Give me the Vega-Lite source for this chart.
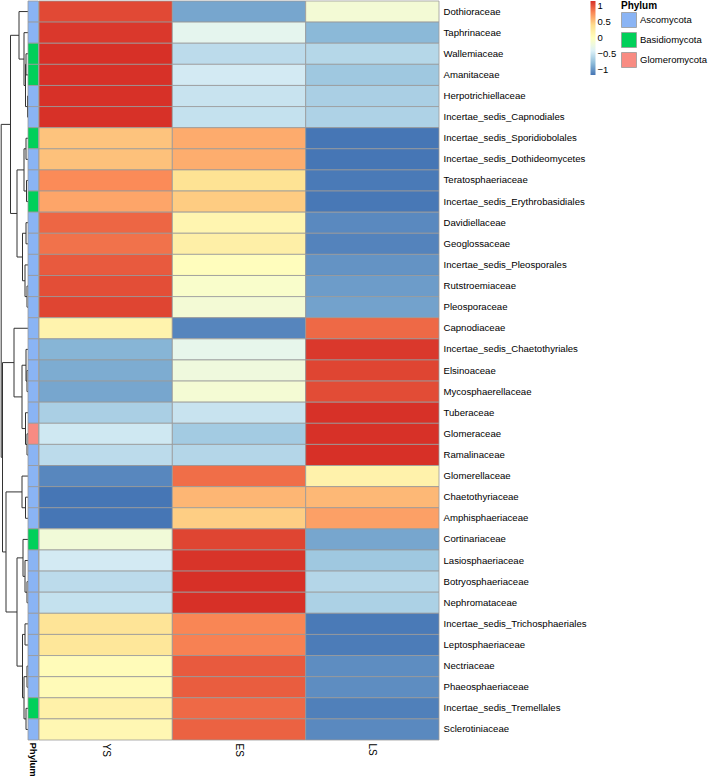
{
  "$schema": "https://vega.github.io/schema/vega-lite/v6.json",
  "padding": 0,
  "bounds": "flush",
  "spacing": 0,
  "config": {"view": {"stroke": null}, "font": "Liberation Sans", "axis": {"labelColor": "black"}, "legend": {"labelColor": "black", "titleColor": "black"}},
  "resolve": {"scale": {"x": "independent", "y": "independent", "color": "independent"}, "legend": {"color": "independent"}},
  "datasets": {
    "dendro": [
      {"h1":2,"h2":2,"y1":2.5,"y2":3.5},{"h1":0,"h2":2,"y1":2.5,"y2":2.5},{"h1":0,"h2":2,"y1":3.5,"y2":3.5},
      {"h1":0.5,"h2":0.5,"y1":4.5,"y2":5.5},{"h1":0,"h2":0.5,"y1":4.5,"y2":4.5},{"h1":0,"h2":0.5,"y1":5.5,"y2":5.5},
      {"h1":2.5,"h2":2.5,"y1":3,"y2":5},{"h1":2,"h2":2.5,"y1":3,"y2":3},{"h1":0.5,"h2":2.5,"y1":5,"y2":5},
      {"h1":4,"h2":4,"y1":1.5,"y2":4},{"h1":0,"h2":4,"y1":1.5,"y2":1.5},{"h1":2.5,"h2":4,"y1":4,"y2":4},
      {"h1":9,"h2":9,"y1":0.5,"y2":2.75},{"h1":0,"h2":9,"y1":0.5,"y2":0.5},{"h1":4,"h2":9,"y1":2.75,"y2":2.75},
      {"h1":2,"h2":2,"y1":6.5,"y2":7.5},{"h1":0,"h2":2,"y1":6.5,"y2":6.5},{"h1":0,"h2":2,"y1":7.5,"y2":7.5},
      {"h1":1.5,"h2":1.5,"y1":8.5,"y2":9.5},{"h1":0,"h2":1.5,"y1":8.5,"y2":8.5},{"h1":0,"h2":1.5,"y1":9.5,"y2":9.5},
      {"h1":4,"h2":4,"y1":7,"y2":9},{"h1":2,"h2":4,"y1":7,"y2":7},{"h1":1.5,"h2":4,"y1":9,"y2":9},
      {"h1":2,"h2":2,"y1":10.5,"y2":11.5},{"h1":0,"h2":2,"y1":10.5,"y2":10.5},{"h1":0,"h2":2,"y1":11.5,"y2":11.5},
      {"h1":1,"h2":1,"y1":13.5,"y2":14.5},{"h1":0,"h2":1,"y1":13.5,"y2":13.5},{"h1":0,"h2":1,"y1":14.5,"y2":14.5},
      {"h1":3,"h2":3,"y1":12.5,"y2":14},{"h1":0,"h2":3,"y1":12.5,"y2":12.5},{"h1":1,"h2":3,"y1":14,"y2":14},
      {"h1":5.5,"h2":5.5,"y1":11,"y2":13.25},{"h1":2,"h2":5.5,"y1":11,"y2":11},{"h1":3,"h2":5.5,"y1":13.25,"y2":13.25},
      {"h1":11,"h2":11,"y1":8,"y2":12.125},{"h1":4,"h2":11,"y1":8,"y2":8},{"h1":5.5,"h2":11,"y1":12.125,"y2":12.125},
      {"h1":17.5,"h2":17.5,"y1":1.625,"y2":10.0625},{"h1":9,"h2":17.5,"y1":1.625,"y2":1.625},{"h1":11,"h2":17.5,"y1":10.0625,"y2":10.0625},
      {"h1":1,"h2":1,"y1":17.5,"y2":18.5},{"h1":0,"h2":1,"y1":17.5,"y2":17.5},{"h1":0,"h2":1,"y1":18.5,"y2":18.5},
      {"h1":2,"h2":2,"y1":16.5,"y2":18},{"h1":0,"h2":2,"y1":16.5,"y2":16.5},{"h1":1,"h2":2,"y1":18,"y2":18},
      {"h1":1,"h2":1,"y1":20.5,"y2":21.5},{"h1":0,"h2":1,"y1":20.5,"y2":20.5},{"h1":0,"h2":1,"y1":21.5,"y2":21.5},
      {"h1":2.5,"h2":2.5,"y1":19.5,"y2":21},{"h1":0,"h2":2.5,"y1":19.5,"y2":19.5},{"h1":1,"h2":2.5,"y1":21,"y2":21},
      {"h1":6,"h2":6,"y1":17.25,"y2":20.25},{"h1":2,"h2":6,"y1":17.25,"y2":17.25},{"h1":2.5,"h2":6,"y1":20.25,"y2":20.25},
      {"h1":14,"h2":14,"y1":15.5,"y2":18.75},{"h1":0,"h2":14,"y1":15.5,"y2":15.5},{"h1":6,"h2":14,"y1":18.75,"y2":18.75},
      {"h1":2.5,"h2":2.5,"y1":23.5,"y2":24.5},{"h1":0,"h2":2.5,"y1":23.5,"y2":23.5},{"h1":0,"h2":2.5,"y1":24.5,"y2":24.5},
      {"h1":6,"h2":6,"y1":22.5,"y2":24},{"h1":0,"h2":6,"y1":22.5,"y2":22.5},{"h1":2.5,"h2":6,"y1":24,"y2":24},
      {"h1":1,"h2":1,"y1":27.5,"y2":28.5},{"h1":0,"h2":1,"y1":27.5,"y2":27.5},{"h1":0,"h2":1,"y1":28.5,"y2":28.5},
      {"h1":3,"h2":3,"y1":26.5,"y2":28},{"h1":0,"h2":3,"y1":26.5,"y2":26.5},{"h1":1,"h2":3,"y1":28,"y2":28},
      {"h1":5,"h2":5,"y1":25.5,"y2":27.25},{"h1":0,"h2":5,"y1":25.5,"y2":25.5},{"h1":3,"h2":5,"y1":27.25,"y2":27.25},
      {"h1":3,"h2":3,"y1":29.5,"y2":30.5},{"h1":0,"h2":3,"y1":29.5,"y2":29.5},{"h1":0,"h2":3,"y1":30.5,"y2":30.5},
      {"h1":1,"h2":1,"y1":31.5,"y2":32.5},{"h1":0,"h2":1,"y1":31.5,"y2":31.5},{"h1":0,"h2":1,"y1":32.5,"y2":32.5},
      {"h1":2,"h2":2,"y1":33.5,"y2":34.5},{"h1":0,"h2":2,"y1":33.5,"y2":33.5},{"h1":0,"h2":2,"y1":34.5,"y2":34.5},
      {"h1":4,"h2":4,"y1":32,"y2":34},{"h1":1,"h2":4,"y1":32,"y2":32},{"h1":2,"h2":4,"y1":34,"y2":34},
      {"h1":5.5,"h2":5.5,"y1":30,"y2":33},{"h1":3,"h2":5.5,"y1":30,"y2":30},{"h1":4,"h2":5.5,"y1":33,"y2":33},
      {"h1":11,"h2":11,"y1":26.375,"y2":31.5},{"h1":5,"h2":11,"y1":26.375,"y2":26.375},{"h1":5.5,"h2":11,"y1":31.5,"y2":31.5},
      {"h1":22,"h2":22,"y1":23.25,"y2":28.9375},{"h1":6,"h2":22,"y1":23.25,"y2":23.25},{"h1":11,"h2":22,"y1":28.9375,"y2":28.9375},
      {"h1":25.5,"h2":25.5,"y1":17.125,"y2":26.09375},{"h1":14,"h2":25.5,"y1":17.125,"y2":17.125},{"h1":22,"h2":25.5,"y1":26.09375,"y2":26.09375},
      {"h1":26.8,"h2":26.8,"y1":5.84375,"y2":21.609375},{"h1":17.5,"h2":26.8,"y1":5.84375,"y2":5.84375},{"h1":25.5,"h2":26.8,"y1":21.609375,"y2":21.609375}
    ],
    "phylum": [
      {"f":"Dothioraceae","p":"Ascomycota"},
      {"f":"Taphrinaceae","p":"Ascomycota"},
      {"f":"Wallemiaceae","p":"Basidiomycota"},
      {"f":"Amanitaceae","p":"Basidiomycota"},
      {"f":"Herpotrichiellaceae","p":"Ascomycota"},
      {"f":"Incertae_sedis_Capnodiales","p":"Ascomycota"},
      {"f":"Incertae_sedis_Sporidiobolales","p":"Basidiomycota"},
      {"f":"Incertae_sedis_Dothideomycetes","p":"Ascomycota"},
      {"f":"Teratosphaeriaceae","p":"Ascomycota"},
      {"f":"Incertae_sedis_Erythrobasidiales","p":"Basidiomycota"},
      {"f":"Davidiellaceae","p":"Ascomycota"},
      {"f":"Geoglossaceae","p":"Ascomycota"},
      {"f":"Incertae_sedis_Pleosporales","p":"Ascomycota"},
      {"f":"Rutstroemiaceae","p":"Ascomycota"},
      {"f":"Pleosporaceae","p":"Ascomycota"},
      {"f":"Capnodiaceae","p":"Ascomycota"},
      {"f":"Incertae_sedis_Chaetothyriales","p":"Ascomycota"},
      {"f":"Elsinoaceae","p":"Ascomycota"},
      {"f":"Mycosphaerellaceae","p":"Ascomycota"},
      {"f":"Tuberaceae","p":"Ascomycota"},
      {"f":"Glomeraceae","p":"Glomeromycota"},
      {"f":"Ramalinaceae","p":"Ascomycota"},
      {"f":"Glomerellaceae","p":"Ascomycota"},
      {"f":"Chaetothyriaceae","p":"Ascomycota"},
      {"f":"Amphisphaeriaceae","p":"Ascomycota"},
      {"f":"Cortinariaceae","p":"Basidiomycota"},
      {"f":"Lasiosphaeriaceae","p":"Ascomycota"},
      {"f":"Botryosphaeriaceae","p":"Ascomycota"},
      {"f":"Nephromataceae","p":"Ascomycota"},
      {"f":"Incertae_sedis_Trichosphaeriales","p":"Ascomycota"},
      {"f":"Leptosphaeriaceae","p":"Ascomycota"},
      {"f":"Nectriaceae","p":"Ascomycota"},
      {"f":"Phaeosphaeriaceae","p":"Ascomycota"},
      {"f":"Incertae_sedis_Tremellales","p":"Basidiomycota"},
      {"f":"Sclerotiniaceae","p":"Ascomycota"}
    ],
    "heat": [
      {"f":"Dothioraceae","s":"YS","v":1.05},{"f":"Dothioraceae","s":"ES","v":-0.9},{"f":"Dothioraceae","s":"LS","v":-0.15},
      {"f":"Taphrinaceae","s":"YS","v":1.12},{"f":"Taphrinaceae","s":"ES","v":-0.32},{"f":"Taphrinaceae","s":"LS","v":-0.8},
      {"f":"Wallemiaceae","s":"YS","v":1.155},{"f":"Wallemiaceae","s":"ES","v":-0.56},{"f":"Wallemiaceae","s":"LS","v":-0.595},
      {"f":"Amanitaceae","s":"YS","v":1.15},{"f":"Amanitaceae","s":"ES","v":-0.45},{"f":"Amanitaceae","s":"LS","v":-0.7},
      {"f":"Herpotrichiellaceae","s":"YS","v":1.15},{"f":"Herpotrichiellaceae","s":"ES","v":-0.5},{"f":"Herpotrichiellaceae","s":"LS","v":-0.65},
      {"f":"Incertae_sedis_Capnodiales","s":"YS","v":1.15},{"f":"Incertae_sedis_Capnodiales","s":"ES","v":-0.52},{"f":"Incertae_sedis_Capnodiales","s":"LS","v":-0.63},
      {"f":"Incertae_sedis_Sporidiobolales","s":"YS","v":0.52},{"f":"Incertae_sedis_Sporidiobolales","s":"ES","v":0.63},{"f":"Incertae_sedis_Sporidiobolales","s":"LS","v":-1.15},
      {"f":"Incertae_sedis_Dothideomycetes","s":"YS","v":0.53},{"f":"Incertae_sedis_Dothideomycetes","s":"ES","v":0.62},{"f":"Incertae_sedis_Dothideomycetes","s":"LS","v":-1.15},
      {"f":"Teratosphaeriaceae","s":"YS","v":0.78},{"f":"Teratosphaeriaceae","s":"ES","v":0.35},{"f":"Teratosphaeriaceae","s":"LS","v":-1.13},
      {"f":"Incertae_sedis_Erythrobasidiales","s":"YS","v":0.66},{"f":"Incertae_sedis_Erythrobasidiales","s":"ES","v":0.48},{"f":"Incertae_sedis_Erythrobasidiales","s":"LS","v":-1.14},
      {"f":"Davidiellaceae","s":"YS","v":0.93},{"f":"Davidiellaceae","s":"ES","v":0.12},{"f":"Davidiellaceae","s":"LS","v":-1.05},
      {"f":"Geoglossaceae","s":"YS","v":0.88},{"f":"Geoglossaceae","s":"ES","v":0.2},{"f":"Geoglossaceae","s":"LS","v":-1.08},
      {"f":"Incertae_sedis_Pleosporales","s":"YS","v":0.98},{"f":"Incertae_sedis_Pleosporales","s":"ES","v":0.02},{"f":"Incertae_sedis_Pleosporales","s":"LS","v":-1.0},
      {"f":"Rutstroemiaceae","s":"YS","v":1.03},{"f":"Rutstroemiaceae","s":"ES","v":-0.08},{"f":"Rutstroemiaceae","s":"LS","v":-0.95},
      {"f":"Pleosporaceae","s":"YS","v":1.07},{"f":"Pleosporaceae","s":"ES","v":-0.15},{"f":"Pleosporaceae","s":"LS","v":-0.92},
      {"f":"Capnodiaceae","s":"YS","v":0.15},{"f":"Capnodiaceae","s":"ES","v":-1.07},{"f":"Capnodiaceae","s":"LS","v":0.92},
      {"f":"Incertae_sedis_Chaetothyriales","s":"YS","v":-0.82},{"f":"Incertae_sedis_Chaetothyriales","s":"ES","v":-0.3},{"f":"Incertae_sedis_Chaetothyriales","s":"LS","v":1.12},
      {"f":"Elsinoaceae","s":"YS","v":-0.87},{"f":"Elsinoaceae","s":"ES","v":-0.2},{"f":"Elsinoaceae","s":"LS","v":1.07},
      {"f":"Mycosphaerellaceae","s":"YS","v":-0.9},{"f":"Mycosphaerellaceae","s":"ES","v":-0.14},{"f":"Mycosphaerellaceae","s":"LS","v":1.04},
      {"f":"Tuberaceae","s":"YS","v":-0.65},{"f":"Tuberaceae","s":"ES","v":-0.5},{"f":"Tuberaceae","s":"LS","v":1.15},
      {"f":"Glomeraceae","s":"YS","v":-0.47},{"f":"Glomeraceae","s":"ES","v":-0.68},{"f":"Glomeraceae","s":"LS","v":1.15},
      {"f":"Ramalinaceae","s":"YS","v":-0.56},{"f":"Ramalinaceae","s":"ES","v":-0.6},{"f":"Ramalinaceae","s":"LS","v":1.155},
      {"f":"Glomerellaceae","s":"YS","v":-1.06},{"f":"Glomerellaceae","s":"ES","v":0.9},{"f":"Glomerellaceae","s":"LS","v":0.16},
      {"f":"Chaetothyriaceae","s":"YS","v":-1.15},{"f":"Chaetothyriaceae","s":"ES","v":0.58},{"f":"Chaetothyriaceae","s":"LS","v":0.57},
      {"f":"Amphisphaeriaceae","s":"YS","v":-1.15},{"f":"Amphisphaeriaceae","s":"ES","v":0.47},{"f":"Amphisphaeriaceae","s":"LS","v":0.68},
      {"f":"Cortinariaceae","s":"YS","v":-0.17},{"f":"Cortinariaceae","s":"ES","v":1.07},{"f":"Cortinariaceae","s":"LS","v":-0.9},
      {"f":"Lasiosphaeriaceae","s":"YS","v":-0.45},{"f":"Lasiosphaeriaceae","s":"ES","v":1.14},{"f":"Lasiosphaeriaceae","s":"LS","v":-0.7},
      {"f":"Botryosphaeriaceae","s":"YS","v":-0.56},{"f":"Botryosphaeriaceae","s":"ES","v":1.155},{"f":"Botryosphaeriaceae","s":"LS","v":-0.6},
      {"f":"Nephromataceae","s":"YS","v":-0.52},{"f":"Nephromataceae","s":"ES","v":1.155},{"f":"Nephromataceae","s":"LS","v":-0.64},
      {"f":"Incertae_sedis_Trichosphaeriales","s":"YS","v":0.33},{"f":"Incertae_sedis_Trichosphaeriales","s":"ES","v":0.8},{"f":"Incertae_sedis_Trichosphaeriales","s":"LS","v":-1.13},
      {"f":"Leptosphaeriaceae","s":"YS","v":0.3},{"f":"Leptosphaeriaceae","s":"ES","v":0.82},{"f":"Leptosphaeriaceae","s":"LS","v":-1.12},
      {"f":"Nectriaceae","s":"YS","v":0.05},{"f":"Nectriaceae","s":"ES","v":0.98},{"f":"Nectriaceae","s":"LS","v":-1.03},
      {"f":"Phaeosphaeriaceae","s":"YS","v":0.06},{"f":"Phaeosphaeriaceae","s":"ES","v":0.97},{"f":"Phaeosphaeriaceae","s":"LS","v":-1.03},
      {"f":"Incertae_sedis_Tremellales","s":"YS","v":0.18},{"f":"Incertae_sedis_Tremellales","s":"ES","v":0.92},{"f":"Incertae_sedis_Tremellales","s":"LS","v":-1.1},
      {"f":"Sclerotiniaceae","s":"YS","v":0.1},{"f":"Sclerotiniaceae","s":"ES","v":0.95},{"f":"Sclerotiniaceae","s":"LS","v":-1.05}
    ]
  },
  "hconcat": [
    {
      "width": 27,
      "height": 739,
      "data": {"name": "dendro"},
      "mark": {"type": "rule", "color": "#333333", "strokeWidth": 1},
      "encoding": {
        "x": {"field": "h1", "type": "quantitative", "scale": {"domain": [0, 27], "reverse": true, "nice": false, "zero": false}, "axis": null},
        "x2": {"field": "h2"},
        "y": {"field": "y1", "type": "quantitative", "scale": {"domain": [0, 35], "reverse": true, "nice": false, "zero": false}, "axis": null},
        "y2": {"field": "y2"}
      }
    },
    {
      "width": 10.5,
      "height": 739,
      "data": {"name": "phylum"},
      "mark": {"type": "rect", "stroke": "#999999", "strokeWidth": 0.8},
      "encoding": {
        "x": {"datum": "Phylum", "type": "nominal", "scale": {"paddingInner": 0, "paddingOuter": 0}, "axis": {"title": null, "labelAngle": 90, "labelFontWeight": "bold", "labelFontSize": 9.5, "ticks": false, "domain": false, "labelPadding": 2}},
        "y": {"field": "f", "type": "nominal", "sort": null, "scale": {"paddingInner": 0, "paddingOuter": 0}, "axis": null},
        "color": {
          "field": "p", "type": "nominal",
          "scale": {"domain": ["Ascomycota", "Basidiomycota", "Glomeromycota"], "range": ["#8AB4F4", "#00D05A", "#F88B82"]},
          "legend": {"orient": "none", "legendX": 593, "legendY": 0, "title": "Phylum", "titleFontSize": 10, "titleFontWeight": "bold", "titlePadding": 1, "padding": 0, "symbolType": "square", "symbolSize": 225, "symbolStrokeColor": "#999999", "symbolStrokeWidth": 0.8, "symbolOpacity": 1, "rowPadding": 0, "labelFontSize": 9.5, "labelOffset": 3, "labelLimit": 200}
        }
      }
    },
    {
      "width": 400,
      "height": 739,
      "data": {"name": "heat"},
      "mark": {"type": "rect", "stroke": "#999999", "strokeWidth": 0.8},
      "encoding": {
        "x": {"field": "s", "type": "nominal", "sort": ["YS", "ES", "LS"], "scale": {"paddingInner": 0, "paddingOuter": 0}, "axis": {"title": null, "orient": "bottom", "labelAngle": 90, "ticks": false, "domain": false, "labelFontSize": 10, "labelPadding": 3}},
        "y": {"field": "f", "type": "nominal", "sort": null, "scale": {"paddingInner": 0, "paddingOuter": 0}, "axis": {"orient": "right", "title": null, "ticks": false, "domain": false, "labelFontSize": 9.6, "labelPadding": 4}},
        "color": {
          "field": "v", "type": "quantitative",
          "scale": {"domain": [-1.155, 1.155], "range": ["#4575B4", "#91BFDB", "#E0F3F8", "#FFFFBF", "#FEE090", "#FC8D59", "#D73027"], "interpolate": "rgb"},
          "legend": {"orient": "none", "legendX": 551.5, "legendY": 0, "title": null, "direction": "vertical", "gradientLength": 74, "gradientThickness": 5, "gradientStrokeWidth": 0, "labelFontSize": 9.5, "padding": 0, "labelOffset": 2, "values": [-1, -0.5, 0, 0.5, 1], "labelOverlap": false, "format": ".1~f"}
        }
      }
    }
  ]
}
